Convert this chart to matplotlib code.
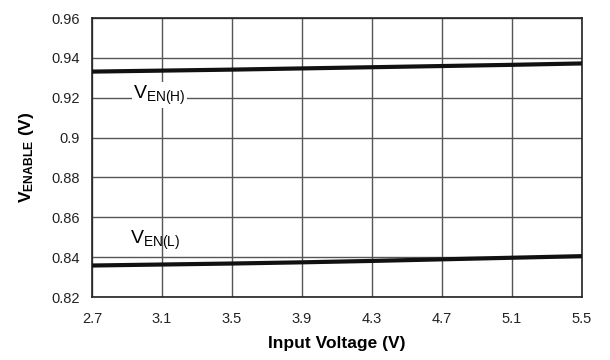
import numpy as np
import matplotlib
matplotlib.use('Agg')
import matplotlib.pyplot as plt

plt.rcParams['font.family'] = ['Liberation Sans', 'DejaVu Sans']
plt.rcParams['mathtext.fontset'] = 'custom'
plt.rcParams['mathtext.rm'] = 'Liberation Sans'
plt.rcParams['mathtext.bf'] = 'Liberation Sans:bold'

# data
vin = [2.7, 3.1, 3.5, 3.9, 4.3, 4.7, 5.1, 5.5]
ven_h = [0.9331, 0.9336, 0.9341, 0.9347, 0.9353, 0.9359, 0.9365, 0.9372]
ven_l = [0.8358, 0.8363, 0.8368, 0.8374, 0.8381, 0.8389, 0.8397, 0.8405]
xticks = [2.7, 3.1, 3.5, 3.9, 4.3, 4.7, 5.1, 5.5]
yticks = [0.82, 0.84, 0.86, 0.88, 0.9, 0.92, 0.94, 0.96]
yticklabels = ['0.82', '0.84', '0.86', '0.88', '0.9', '0.92', '0.94', '0.96']

fig = plt.figure(figsize=(6.1, 3.6), dpi=100)
ax = fig.add_axes([92/610, 1-297/360, 490/610, 279/360])

ax.plot(vin, ven_h, color='#111111', lw=3, solid_capstyle='butt', zorder=3)
ax.plot(vin, ven_l, color='#111111', lw=3, solid_capstyle='butt', zorder=3)

ax.set_xlim(2.7, 5.5)
ax.set_ylim(0.82, 0.96)
ax.set_xticks(xticks)
ax.set_xticklabels([str(v) for v in xticks])
ax.set_yticks(yticks)
ax.set_yticklabels(yticklabels)
ax.tick_params(length=0, labelsize=10.5, colors='#222222')
ax.tick_params(axis='x', pad=11)
ax.tick_params(axis='y', pad=9)
ax.grid(True, color='#555555', lw=1)
ax.set_axisbelow(True)
for s in ax.spines.values():
    s.set_color('#222222')
    s.set_linewidth(1.2)

ax.text(2.935, 0.9197, r'V$_{\mathrm{EN(H)}}$', fontsize=14, va='baseline', ha='left',
        bbox=dict(facecolor='white', edgecolor='none', pad=1), zorder=2)
ax.text(2.918, 0.8469, r'V$_{\mathrm{EN(L)}}$', fontsize=14, va='baseline', ha='left', zorder=2)

ax.set_xlabel('Input Voltage (V)', fontsize=12.5, fontweight='bold', labelpad=7)
ax.set_ylabel(r'$\mathbf{V_{ENABLE}}$ (V)', fontsize=12.5, fontweight='bold', labelpad=11)

fig.savefig('out.png', dpi=100)
